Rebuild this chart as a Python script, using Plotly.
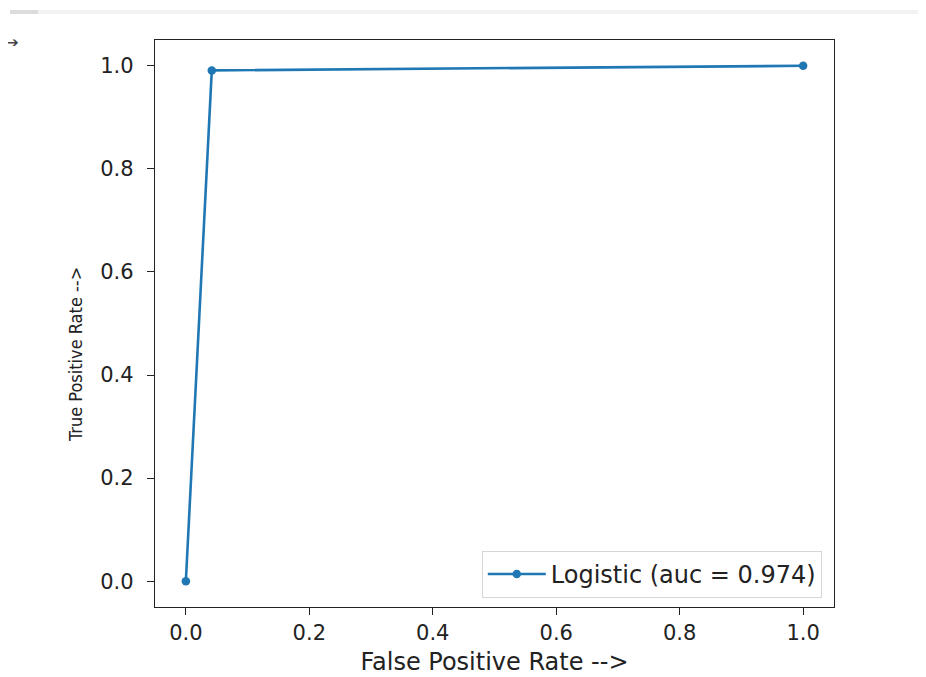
import plotly.graph_objects as go

# ROC curve points
fpr = [0.0, 0.042, 1.0]
tpr = [0.0, 0.991, 1.0]
series_name = "Logistic (auc = 0.974)"
x_title = "False Positive Rate -->"
y_title = "True Positive Rate -->"
tick_vals = [0.0, 0.2, 0.4, 0.6, 0.8, 1.0]
tick_text = ["0.0", "0.2", "0.4", "0.6", "0.8", "1.0"]

W, H = 926, 677
ML, MR, MT, MB = 147, 100, 32, 78
PW, PH = W - ML - MR, H - MT - MB


def px_x(fx):
    return (fx - ML) / PW


def px_y(fy):
    return (H - MB - fy) / PH


fig = go.Figure()
fig.add_trace(go.Scatter(
    x=fpr, y=tpr, mode="lines+markers", name=series_name,
    line=dict(color="#1f77b4", width=2.6),
    marker=dict(color="#1f77b4", size=8.5),
))

font_main = "DejaVu Sans, Verdana, sans-serif"
axis_common = dict(
    showgrid=False, zeroline=False,
    showline=True, linecolor="#222", linewidth=1.4, mirror=True,
    ticks="outside", ticklen=7, tickwidth=1.4, tickcolor="#222",
    tickvals=tick_vals, ticktext=tick_text,
    tickfont=dict(family=font_main, size=21, color="#222"),
)

fig.update_layout(
    width=W, height=H,
    paper_bgcolor="white", plot_bgcolor="white",
    margin=dict(l=ML, r=MR, t=MT, b=MB),
    showlegend=True,
    legend=dict(
        x=0.982, y=0.016, xanchor="right", yanchor="bottom",
        bgcolor="rgba(255,255,255,0.8)", bordercolor="#d6d6d6", borderwidth=1,
        font=dict(family=font_main, size=24, color="#222"),
        itemwidth=58,
    ),
    xaxis=dict(
        range=[-0.05, 1.05],
        title=dict(text=x_title, standoff=8,
                   font=dict(family=font_main, size=24, color="#222")),
        **axis_common,
    ),
    yaxis=dict(
        range=[-0.05, 1.05],
        ticklabelstandoff=9,
        **axis_common,
    ),
    shapes=[
        dict(type="line", xref="paper", yref="paper", x0=px_x(2), x1=px_x(W),
             y0=px_y(4), y1=px_y(4),
             line=dict(color="#f2f2f2", width=4)),
        dict(type="line", xref="paper", yref="paper", x0=px_x(2), x1=px_x(30),
             y0=px_y(4), y1=px_y(4),
             line=dict(color="#dcdcdc", width=4)),
    ],
    annotations=[
        dict(text="➔", xref="paper", yref="paper", x=px_x(5), y=px_y(34),
             showarrow=False, xanchor="center", yanchor="middle",
             font=dict(family="DejaVu Sans", size=14, color="#444")),
        dict(text=y_title, xref="paper", yref="paper", x=px_x(67), y=px_y(347),
             showarrow=False, xanchor="center", yanchor="middle", textangle=-90,
             font=dict(family="Liberation Sans Narrow, DejaVu Sans Condensed, sans-serif",
                       size=18, color="#222")),
    ],
)

fig.write_html("out.html")
